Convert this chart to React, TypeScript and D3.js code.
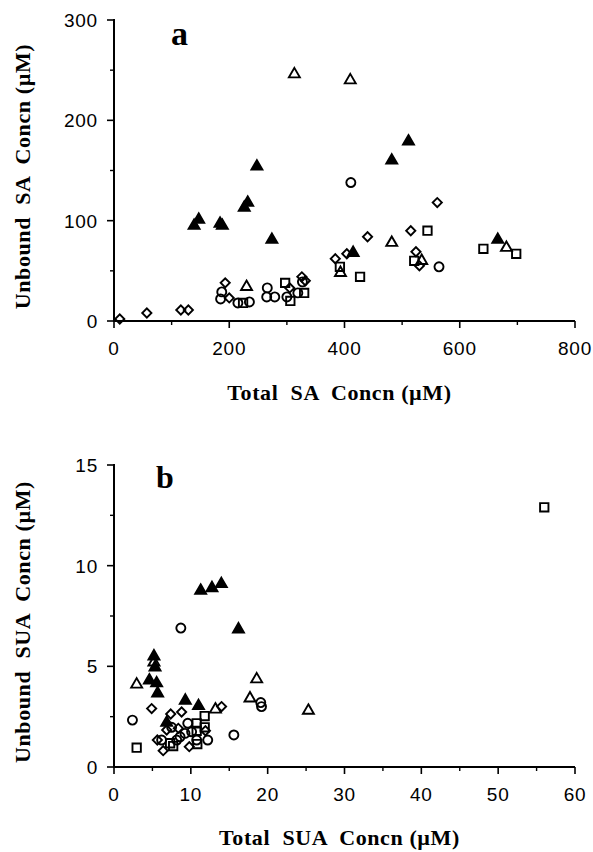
import React from "react";
import * as d3 from "d3";

// Panel a: Total SA vs Unbound SA (µM)
const aFilledTri: [number, number][] = [[139,95],[147,101],[184,97],[188,95],[226,113],[232,118],[248,154],[274,81],[415,68],[482,160],[511,179],[666,81]];
const aOpenTri: [number, number][] = [[313,246],[410,240],[230,34],[393,48],[482,78],[681,73],[534,60]];
const aCircles: [number, number][] = [[187,29],[185,22],[215,18],[235,19],[266,33],[265,24],[279,24],[300,24],[319,28],[327,39],[411,138],[564,54]];
const aSquares: [number, number][] = [[224,18],[297,38],[306,20],[330,28],[392,54],[427,44],[521,60],[544,90],[641,72],[698,67]];
const aDiamonds: [number, number][] = [[10,2],[57,8],[116,11],[129,11],[193,38],[200,23],[305,33],[326,44],[332,40],[384,62],[404,67],[440,84],[515,90],[524,69],[530,55],[561,118]];

// Panel b: Total SUA vs Unbound SUA (µM)
const bFilledTri: [number, number][] = [[4.6,4.3],[5.2,5.5],[5.34,4.95],[5.55,4.16],[5.68,3.66],[6.86,2.2],[9.28,3.3],[11.0,3.03],[11.28,8.76],[12.75,8.89],[13.97,9.09],[16.2,6.84]];
const bOpenTri: [number, number][] = [[2.95,4.1],[5.2,5.2],[13.2,2.86],[17.7,3.41],[18.57,4.36],[25.3,2.8]];
const bCircles: [number, number][] = [[2.4,2.33],[8.7,6.9],[7.5,1.97],[9.6,2.17],[8.6,1.5],[9.24,1.67],[10.1,1.75],[6.2,1.34],[8.16,1.34],[10.76,1.34],[12.2,1.34],[15.6,1.59],[19.1,3.2],[19.2,3.0]];
const bSquares: [number, number][] = [[2.95,0.96],[7.3,1.18],[7.7,1.04],[10.76,2.17],[11.8,2.53],[10.76,1.8],[10.84,1.14],[11.8,1.97],[56,12.9]];
const bDiamonds: [number, number][] = [[4.9,2.9],[5.64,1.34],[6.4,0.81],[6.86,1.84],[7.38,2.63],[8.37,1.92],[8.8,2.73],[9.8,1.01],[11.9,1.8],[14.0,3.0]];

const aXTicks = [0, 200, 400, 600, 800];
const aXMinor = [100, 300, 500, 700];
const aYTicks = [0, 100, 200, 300];
const aYMinor = [50, 150, 250];
const bXTicks = [0, 10, 20, 30, 40, 50, 60];
const bXMinor = [5, 15, 25, 35, 45, 55];
const bYTicks = [0, 5, 10, 15];
const bYMinor = [2.5, 7.5, 12.5];

const tickFont = "'Liberation Sans', Arial, sans-serif";
const titleFont = "'Liberation Serif', 'Times New Roman', serif";

const triPath = d3.symbol().type(d3.symbolTriangle).size(52)()!;
const circPath = d3.symbol().type(d3.symbolCircle).size(64)()!;
const sqPath = d3.symbol().type(d3.symbolSquare).size(70)()!;
const diaPath = d3.symbol().type(d3.symbolSquare).size(42)()!;

type Series = { data: [number, number][]; kind: "ftri" | "otri" | "circ" | "sq" | "dia" };

function Marks({ series, x, y }: { series: Series[]; x: d3.ScaleLinear<number, number>; y: d3.ScaleLinear<number, number> }) {
  return (
    <g>
      {series.map((s, si) =>
        s.data.map((d, i) => {
          const tx = x(d[0]);
          const ty = y(d[1]);
          let path = triPath;
          let fill = "none";
          let rot = 0;
          if (s.kind === "ftri") fill = "#000";
          if (s.kind === "circ") path = circPath;
          if (s.kind === "sq") path = sqPath;
          if (s.kind === "dia") { path = diaPath; rot = 45; }
          return (
            <path
              key={si + "-" + i}
              d={path}
              transform={`translate(${tx},${ty}) rotate(${rot})`}
              fill={fill}
              stroke="#000"
              strokeWidth={1.9}
            />
          );
        })
      )}
    </g>
  );
}

function Panel(props: {
  x: d3.ScaleLinear<number, number>;
  y: d3.ScaleLinear<number, number>;
  xTicks: number[]; xMinor: number[]; yTicks: number[]; yMinor: number[];
  series: Series[]; letter: string; letterX: number; letterY: number; letterSize: number;
  xTitle: string; yTitle: string; xTitleY: number;
}) {
  const { x, y } = props;
  const [x0, x1] = x.range();
  const [y0, y1] = y.range();
  const yMid = (y0 + y1) / 2;
  const xMid = (x0 + x1) / 2;
  return (
    <g>
      <line x1={x0} x2={x0} y1={y1 - 1} y2={y0 + 1} stroke="#000" strokeWidth={2} />
      <line x1={x0} x2={x1} y1={y0} y2={y0} stroke="#000" strokeWidth={2} />
      {props.yTicks.map((t) => (
        <g key={"yt" + t}>
          <line x1={x0 - 7} x2={x0} y1={y(t)} y2={y(t)} stroke="#000" strokeWidth={1.6} />
          <text x={x0 - 16} y={y(t)} dy="0.36em" textAnchor="end" fontFamily={tickFont} fontSize={19} letterSpacing={0.8}>{t}</text>
        </g>
      ))}
      {props.yMinor.map((t) => (
        <line key={"ym" + t} x1={x0 - 4} x2={x0} y1={y(t)} y2={y(t)} stroke="#000" strokeWidth={1.4} />
      ))}
      {props.xTicks.map((t) => (
        <g key={"xt" + t}>
          <line x1={x(t)} x2={x(t)} y1={y0} y2={y0 + 7} stroke="#000" strokeWidth={1.6} />
          <text x={x(t)} y={y0 + 27} dy="0.36em" textAnchor="middle" fontFamily={tickFont} fontSize={19} letterSpacing={0.8}>{t}</text>
        </g>
      ))}
      {props.xMinor.map((t) => (
        <line key={"xm" + t} x1={x(t)} x2={x(t)} y1={y0} y2={y0 + 4} stroke="#000" strokeWidth={1.4} />
      ))}
      <text x={props.letterX} y={props.letterY} fontFamily={titleFont} fontWeight="bold" fontSize={props.letterSize}>{props.letter}</text>
      <text x={xMid - 5} y={props.xTitleY} textAnchor="middle" fontFamily={titleFont} fontWeight="bold" fontSize={22} letterSpacing={0.6} style={{ whiteSpace: "pre" }}>{props.xTitle}</text>
      <text transform={`translate(30,${yMid + 6}) rotate(-90)`} textAnchor="middle" fontFamily={titleFont} fontWeight="bold" fontSize={22} letterSpacing={0.6} style={{ whiteSpace: "pre" }}>{props.yTitle}</text>
      <Marks series={props.series} x={x} y={y} />
    </g>
  );
}

export default function App() {
  const ax = d3.scaleLinear().domain([0, 800]).range([114, 575]);
  const ay = d3.scaleLinear().domain([0, 300]).range([321, 20]);
  const bx = d3.scaleLinear().domain([0, 60]).range([114, 575]);
  const by = d3.scaleLinear().domain([0, 15]).range([767, 465]);

  const aSeries: Series[] = [
    { data: aDiamonds, kind: "dia" },
    { data: aCircles, kind: "circ" },
    { data: aSquares, kind: "sq" },
    { data: aOpenTri, kind: "otri" },
    { data: aFilledTri, kind: "ftri" },
  ];
  const bSeries: Series[] = [
    { data: bDiamonds, kind: "dia" },
    { data: bCircles, kind: "circ" },
    { data: bSquares, kind: "sq" },
    { data: bOpenTri, kind: "otri" },
    { data: bFilledTri, kind: "ftri" },
  ];

  return (
    <svg width={593} height={852} style={{ position: "absolute", left: 0, top: 0, background: "#fff" }}>
      <rect width={593} height={852} fill="#fff" />
      <Panel x={ax} y={ay} xTicks={aXTicks} xMinor={aXMinor} yTicks={aYTicks} yMinor={aYMinor}
        series={aSeries} letter="a" letterX={171} letterY={45} letterSize={34}
        xTitle={"Total  SA  Concn (\u00b5M)"} yTitle={"Unbound  SA  Concn (\u00b5M)"} xTitleY={400} />
      <Panel x={bx} y={by} xTicks={bXTicks} xMinor={bXMinor} yTicks={bYTicks} yMinor={bYMinor}
        series={bSeries} letter="b" letterX={156} letterY={488} letterSize={32}
        xTitle={"Total  SUA  Concn (\u00b5M)"} yTitle={"Unbound  SUA  Concn (\u00b5M)"} xTitleY={845} />
    </svg>
  );
}
